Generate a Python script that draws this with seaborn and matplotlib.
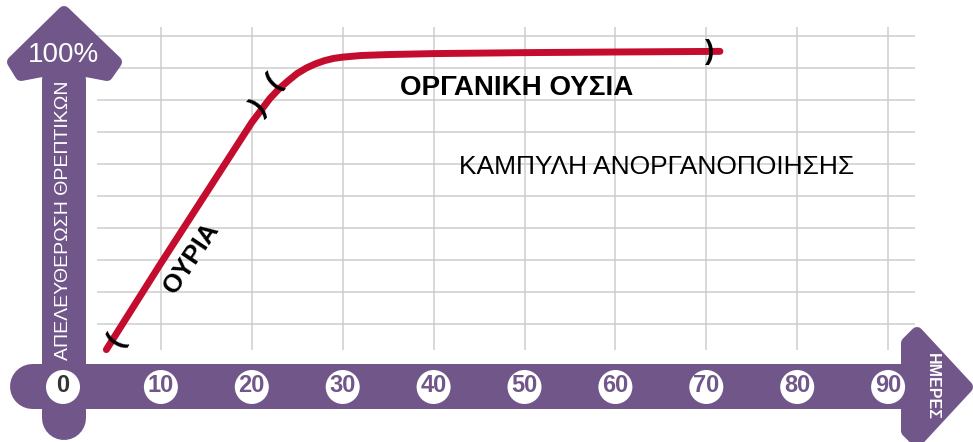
import numpy as np
import matplotlib
matplotlib.use('Agg')
import matplotlib.pyplot as plt
from matplotlib.patches import Polygon
import seaborn as sns

# curve (days, % nutrient release)
days = [4, 10, 15, 20, 22, 23, 24, 25, 26, 27, 28, 29, 30, 32, 35, 40, 50, 60, 71.5]
release = [2, 29, 51, 73, 80.5, 83.5, 86, 88.3, 90, 91.3, 92.3, 93, 93.4, 93.9, 94.2,
           94.5, 94.8, 95, 95.2]

tick_days = [0, 10, 20, 30, 40, 50, 60, 70, 80, 90]
tick_labels = ['0', '10', '20', '30', '40', '50', '60', '70', '80', '90']
grid_days = [10, 20, 30, 40, 50, 60, 70, 80, 90]
grid_pct = [10, 20, 30, 40, 50, 60, 70, 80, 90, 100]

purple = '#71568a'
red = '#c40d2e'
grey = '#cdcdcd'

sns.set_theme(style='white')
plt.rcParams['font.family'] = ['Liberation Sans', 'DejaVu Sans']


# pixel -> data helpers for the decorations
def X(px):
    return (px - 70) / 9.09


def Y(py):
    return (356 - py) / 3.2


PT = 72 / 100  # points per pixel

fig = plt.figure(figsize=(9.73, 4.42), dpi=100)
ax = fig.add_axes([0, 0, 1, 1])
ax.set_xlim(X(0), X(973))
ax.set_ylim(Y(442), Y(0))
ax.axis('off')

# grid
ax.vlines(grid_days, Y(350), Y(27), color=grey, lw=1.5 * PT, zorder=1)
ax.hlines(grid_pct, X(97), X(915), color=grey, lw=1.5 * PT, zorder=1)

# purple axes arrows
ax.plot([X(32), X(905)], [Y(385.5), Y(385.5)], color=purple, lw=45 * PT,
        solid_capstyle='round', zorder=2)
ax.plot([X(64), X(64)], [Y(418), Y(80)], color=purple, lw=44 * PT,
        solid_capstyle='round', zorder=2)
up_head = [(64, 12), (13, 62), (21, 75), (42, 71), (86, 71), (107, 75), (116, 62)]
right_head = [(907, 343), (917, 333), (967, 387), (917, 441), (907, 431)]
for head in (up_head, right_head):
    ax.add_patch(Polygon([(X(a), Y(b)) for a, b in head], closed=True,
                         facecolor=purple, edgecolor=purple, lw=12 * PT,
                         joinstyle='round', zorder=2))

# tick circles
circle_x = [X(63) if d == 0 else d for d in tick_days]
ax.scatter(circle_x, [Y(387)] * len(circle_x), s=(34 * PT) ** 2, color='white',
           edgecolor='none', zorder=3)
for cx, lab in zip(circle_x, tick_labels):
    ax.text(cx, Y(386), lab, ha='center', va='center', fontsize=17,
            fontweight='bold', color='#333333' if lab == '0' else purple, zorder=4)

# curve
sns.lineplot(x=days, y=release, color=red, linewidth=5, ax=ax,
             solid_capstyle='round', zorder=5)

# break marks
marks = [('(', 116, 340, 58), (')', 259, 108, 45), ('(', 274, 82, 45), (')', 710, 52, 0)]
for ch, mx, my, rot in marks:
    ax.text(X(mx), Y(my), ch, ha='center', va='center', rotation=rot,
            rotation_mode='anchor', fontsize=20, fontweight='bold',
            color='black', zorder=6)

# texts
ax.text(X(64), Y(55), '100%', ha='center', va='center', fontsize=20, color='white', zorder=6)
ax.text(X(64), Y(220), 'ΑΠΕΛΕΥΘΕΡΩΣΗ ΘΡΕΠΤΙΚΩΝ', ha='center', va='center',
        rotation=90, fontsize=14, color='white', zorder=6)
ax.text(X(932), Y(386), 'ΗΜΕΡΕΣ', ha='center', va='center', rotation=-90,
        fontsize=11.5, fontweight='bold', color='white', zorder=6)
ax.text(X(517), Y(88), 'ΟΡΓΑΝΙΚΗ ΟΥΣΙΑ', ha='center', va='center',
        fontsize=20, fontweight='bold', color='black', zorder=6)
ax.text(X(657), Y(167), 'ΚΑΜΠΥΛΗ ΑΝΟΡΓΑΝΟΠΟΙΗΣΗΣ', ha='center', va='center',
        fontsize=19, color='black', zorder=6)
ax.text(X(191), Y(258), 'ΟΥΡΙΑ', ha='center', va='center', rotation=56,
        rotation_mode='anchor', fontsize=18.5, fontweight='bold', color='black', zorder=6)

fig.savefig('out.png', dpi=100)
